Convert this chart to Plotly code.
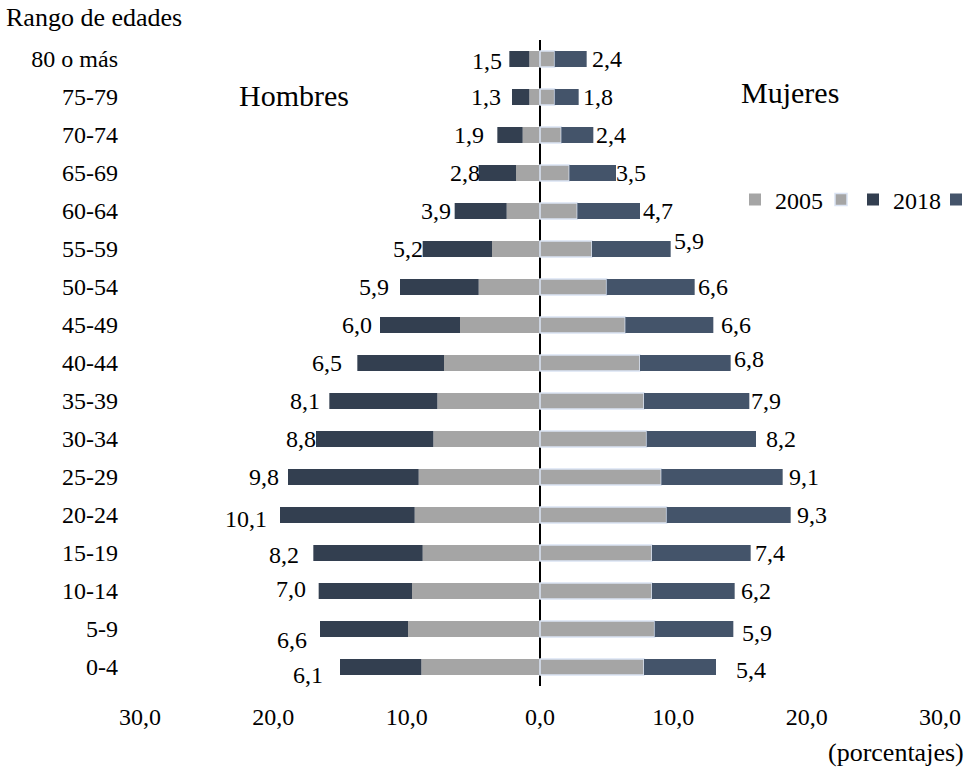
import plotly.graph_objects as go

# ---- data (bottom to top) ----
age_groups = ["0-4", "5-9", "10-14", "15-19", "20-24", "25-29", "30-34", "35-39",
              "40-44", "45-49", "50-54", "55-59", "60-64", "65-69", "70-74", "75-79", "80 o más"]
men_2005 = [8.9, 9.9, 9.6, 8.8, 9.4, 9.1, 8.0, 7.7, 7.2, 6.0, 4.6, 3.6, 2.5, 1.8, 1.3, 0.8, 0.8]
men_2018 = [6.1, 6.6, 7.0, 8.2, 10.1, 9.8, 8.8, 8.1, 6.5, 6.0, 5.9, 5.2, 3.9, 2.8, 1.9, 1.3, 1.5]
women_2005 = [7.8, 8.6, 8.4, 8.4, 9.5, 9.1, 8.0, 7.8, 7.5, 6.4, 5.0, 3.9, 2.8, 2.2, 1.6, 1.1, 1.1]
women_2018 = [5.4, 5.9, 6.2, 7.4, 9.3, 9.1, 8.2, 7.9, 6.8, 6.6, 6.6, 5.9, 4.7, 3.5, 2.4, 1.8, 2.4]

tick_vals = [-30, -20, -10, 0, 10, 20, 30]
tick_text = ["30,0", "20,0", "10,0", "0,0", "10,0", "20,0", "30,0"]

# label nudges in pixels (manual placement as in the original)
men_dx = [-15, -11, -11, -12, -11, -7, 2, -7, -13, -6, -9, 2, -2, 3, -11, -9, -5]
men_dy = [-8, -11, 2, -2, -4, 0, 0, 0, 0, 0, 0, 0, 0, 0, 0, 0, -2]
women_dx = [18, 7, 4, 2, 4, 4, 8, 0, 1, 6, 1, 1, 1, -2, 1, 2, 3]
women_dy = [-3, -4, 0, 0, 0, 0, 0, 0, 4, 0, 0, 8, 0, 0, 0, 0, 0]

FONT = "Liberation Serif, Times New Roman, Times, DejaVu Serif, serif"
C_GRAY = "#A5A5A5"
C_MEN18 = "#333F50"
C_WOM18 = "#44546A"

# plot area geometry (pixels) used to place paper-referenced items
PL, PR, PT, PB = 140, 940, 40, 686


def px_x(px):
    return (px - PL) / (PR - PL)


def px_y(py):
    return (PB - py) / (PB - PT)


def fmt(v):
    return f"{v:.1f}".replace(".", ",")


fig = go.Figure()
fig.add_trace(go.Bar(y=age_groups, x=[-v for v in men_2005], orientation="h", name="2005",
                     legend="legend", marker=dict(color=C_GRAY, line=dict(width=0))))
fig.add_trace(go.Bar(y=age_groups, x=women_2005, orientation="h", name=" ",
                     legend="legend2",
                     marker=dict(color=C_GRAY, line=dict(color="#DAE3F3", width=1.5))))
fig.add_trace(go.Bar(y=age_groups, x=[-v for v in men_2018], orientation="h", name="2018",
                     legend="legend3", marker=dict(color=C_MEN18, line=dict(width=0))))
fig.add_trace(go.Bar(y=age_groups, x=women_2018, orientation="h", name=" ",
                     legend="legend4", marker=dict(color=C_WOM18, line=dict(width=0))))

annotations = []
for i, g in enumerate(age_groups):
    annotations.append(dict(x=-(men_2005[i] + men_2018[i]), y=g, xref="x", yref="y",
                            text=fmt(men_2018[i]), showarrow=False, xanchor="right",
                            yanchor="middle", xshift=men_dx[i], yshift=men_dy[i],
                            font=dict(family=FONT, size=24, color="black")))
    annotations.append(dict(x=women_2005[i] + women_2018[i], y=g, xref="x", yref="y",
                            text=fmt(women_2018[i]), showarrow=False, xanchor="left",
                            yanchor="middle", xshift=women_dx[i], yshift=women_dy[i],
                            font=dict(family=FONT, size=24, color="black")))

annotations += [
    dict(text="Rango de edades", xref="paper", yref="paper", x=px_x(4), y=px_y(17),
         xanchor="left", yanchor="middle", showarrow=False,
         font=dict(family=FONT, size=26, color="black")),
    dict(text="(porcentajes)", xref="paper", yref="paper", x=px_x(966), y=px_y(752),
         xanchor="right", yanchor="middle", showarrow=False,
         font=dict(family=FONT, size=26, color="black")),
    dict(text="Hombres", xref="paper", yref="paper", x=px_x(294), y=px_y(95),
         xanchor="center", yanchor="middle", showarrow=False,
         font=dict(family=FONT, size=30, color="black")),
    dict(text="Mujeres", xref="paper", yref="paper", x=px_x(790), y=px_y(92),
         xanchor="center", yanchor="middle", showarrow=False,
         font=dict(family=FONT, size=30, color="black")),
]


def leg(px_center):
    return dict(orientation="h", x=min(px_x(px_center - 20), 0.995), y=px_y(200),
                xanchor="left", yanchor="middle",
                font=dict(family=FONT, size=24, color="black"),
                bgcolor="rgba(0,0,0,0)", itemclick=False, itemdoubleclick=False)


fig.update_layout(
    width=969, height=772,
    margin=dict(l=PL, r=969 - PR, t=PT, b=772 - PB, autoexpand=False),
    paper_bgcolor="white", plot_bgcolor="white",
    barmode="relative", bargap=0.58,
    font=dict(family=FONT, size=24, color="black"),
    showlegend=True,
    legend=leg(755), legend2=leg(841), legend3=leg(873), legend4=leg(958),
    annotations=annotations,
    xaxis=dict(range=[-30, 30], tickvals=tick_vals, ticktext=tick_text, showgrid=False,
               zeroline=True, zerolinecolor="black", zerolinewidth=2, showline=False,
               ticks="", ticklabelstandoff=14, fixedrange=True),
    yaxis=dict(type="category", categoryorder="array", categoryarray=age_groups,
               range=[-0.5, 16.5], showgrid=False, zeroline=False, showline=False,
               ticks="", ticklabelstandoff=21, fixedrange=True,
               tickfont=dict(family=FONT, size=24)),
)

fig.write_html("out.html", config={"displayModeBar": False},
               post_script="document.body.style.margin='0';")
